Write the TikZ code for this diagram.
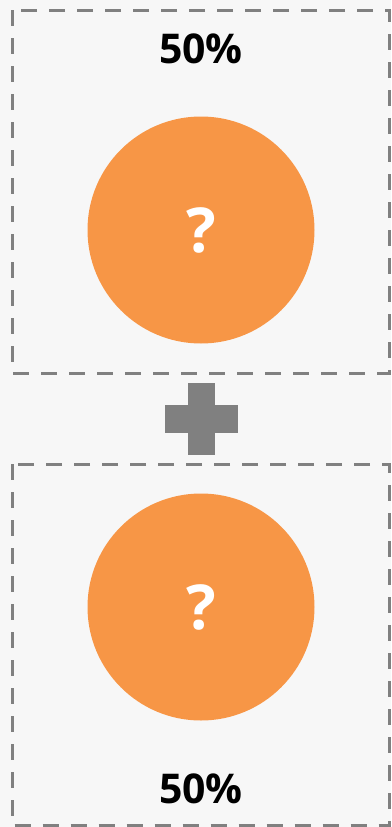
\documentclass[tikz,border=0pt]{standalone}
\usepackage{fontspec}
\setmainfont{Open Sans}
\definecolor{bg}{HTML}{F7F7F7}
\definecolor{dashgray}{HTML}{808080}
\definecolor{orange}{HTML}{F79646}
\begin{document}
\begin{tikzpicture}[x=1pt,y=-1pt,
  panel/.style={draw=dashgray,line width=3pt,dash pattern=on 16pt off 12pt},
  ball/.style={circle,fill=orange,minimum size=227pt,inner sep=0pt},
  qmark/.style={text=white,font=\fontsize{62}{62}\selectfont\bfseries},
  pct/.style={text=black,font=\fontsize{41}{41}\selectfont\bfseries}]
\fill[bg] (0,0) rectangle (391,827);
\useasboundingbox (0,0) rectangle (391,827);
\draw[panel] (12,10) rectangle (389.5,373);
\draw[panel] (12,464) rectangle (389.5,825.5);
\node[ball] (c1) at (201,230) {};
\node[qmark] (q1) at (201,230) {?};
\node[ball] (c2) at (201,607) {};
\node[qmark] (q2) at (201,607) {?};
\node[pct] (t1) at (201,49) {50\%};
\node[pct] (t2) at (201,789) {50\%};
\fill[dashgray] (188,382.5) rectangle (214.5,454.5);
\fill[dashgray] (165,405) rectangle (237.5,432.5);
\end{tikzpicture}
\end{document}
